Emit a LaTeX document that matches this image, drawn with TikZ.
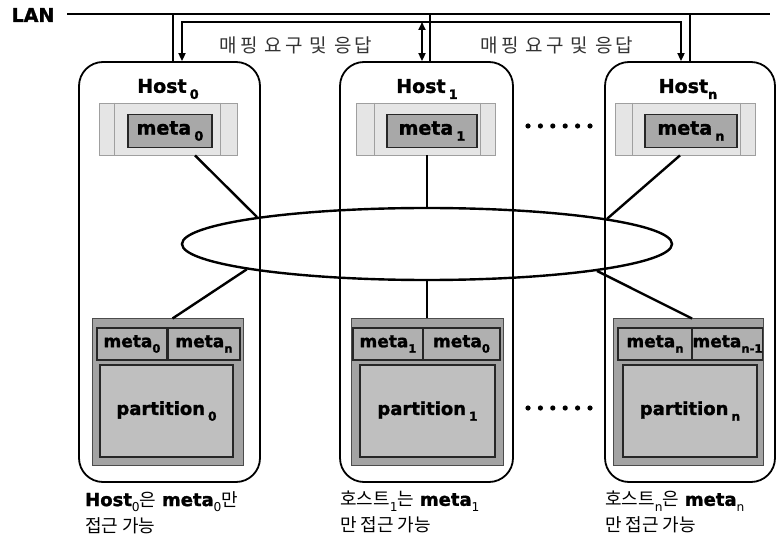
\documentclass[tikz,border=0pt]{standalone}
\usepackage{fontspec}
\setmainfont{DejaVu Sans}[BoldFeatures={FakeBold=1.5}]
\newfontfamily\kr{Noto Sans CJK KR}
\newfontfamily\krw{Noto Sans CJK KR}[LetterSpace=15]
\usetikzlibrary{shapes.geometric,arrows.meta,calc}
\newcommand\dn[1]{\raisebox{-0.32em}{\scalebox{0.68}{#1}}}
\begin{document}
\begin{tikzpicture}[x=1pt,y=-1pt,
  hostbox/.style={draw,line width=1.8pt,rounded corners=24pt,inner sep=0pt},
  metaouter/.style={draw=gray!75,line width=0.8pt,fill=gray!20,inner sep=0pt},
  metainner/.style={draw=black!85,line width=1.2pt,fill=gray!68,inner sep=0pt,font=\fontsize{19}{19}\selectfont\bfseries},
  partouter/.style={draw=black!70,line width=1pt,fill=gray!72,inner sep=0pt},
  metabox/.style={draw=black!85,line width=1.2pt,fill=gray!62,inner sep=0pt,font=\fontsize{17}{17}\selectfont\bfseries},
  partbox/.style={draw=black!85,line width=1.2pt,fill=gray!50,inner sep=0pt,font=\fontsize{18}{18}\selectfont\bfseries},
  hostlbl/.style={font=\fontsize{19}{19}\selectfont\bfseries,inner sep=0pt},
  link/.style={line width=2.4pt},
  lanline/.style={line width=1.8pt},
  darr/.style={line width=1.8pt,arrows={Triangle[length=8pt,width=7pt]-Triangle[length=8pt,width=7pt]}},
  krlbl/.style={font=\krw\fontsize{19}{19}\selectfont,text=black!80,inner sep=0pt},
  caption/.style={anchor=north west,align=left,inner sep=0pt,font=\fontsize{18}{26}\selectfont}
]
\useasboundingbox (0,0) rectangle (779,545);

% hosts
\node[hostbox,minimum width=181pt,minimum height=420pt] (h0) at (169.5,272) {};
\node[hostbox,minimum width=173pt,minimum height=420pt] (h1) at (426.5,272) {};
\node[hostbox,minimum width=170pt,minimum height=420pt] (hn) at (690,272) {};

\node[hostlbl] (l0) at (168,89) {Host\,\dn{0}};
\node[hostlbl] (l1) at (427,89) {Host\,\dn{1}};
\node[hostlbl] (ln) at (688,89) {Host\dn{n}};

% LAN
\node[font=\fontsize{19}{19}\selectfont\bfseries,inner sep=0pt] (lan) at (33,15) {LAN};
\coordinate (lanE) at (770,14);
\draw[lanline] (67,14) -- (lanE);
\coordinate (t0) at (173,14);
\coordinate (t1) at (430,14);
\coordinate (tn) at (690,14);
\draw[lanline] (t0) -- (t0 |- h0.north);
\draw[lanline] (t1) -- (t1 |- h1.north);
\draw[lanline] (tn) -- (tn |- hn.north);
\coordinate (a0) at (182,22);
\coordinate (a1) at (422,22);
\coordinate (an) at (681,22);
\draw[darr] (a0 |- h0.north) -- (a0) -- (an) -- (an |- hn.north);
\draw[darr] (a1) -- (a1 |- h1.north);
\node[krlbl] (k1) at (296,45) {매핑 요구 및 응답};
\node[krlbl] (k2) at (557,45) {매핑 요구 및 응답};

% top meta containers
\node[metaouter,minimum width=138pt,minimum height=52pt] (m0) at (168,129) {};
\draw[gray!75,line width=0.8pt] ($(m0.north west)+(16,0)$) -- ($(m0.south west)+(16,0)$);
\draw[gray!75,line width=0.8pt] ($(m0.north east)+(-17,0)$) -- ($(m0.south east)+(-17,0)$);
\node[metainner,minimum width=84pt,minimum height=33pt] (d0) at (170,131) {meta\,\dn{0}};

\node[metaouter,minimum width=139pt,minimum height=52pt] (m1) at (425.5,129) {};
\draw[gray!75,line width=0.8pt] ($(m1.north west)+(19,0)$) -- ($(m1.south west)+(19,0)$);
\draw[gray!75,line width=0.8pt] ($(m1.north east)+(-15,0)$) -- ($(m1.south east)+(-15,0)$);
\node[metainner,minimum width=90pt,minimum height=33pt] (d1) at (432,131) {meta\,\dn{1}};

\node[metaouter,minimum width=140pt,minimum height=52pt] (mn) at (685,129) {};
\draw[gray!75,line width=0.8pt] ($(mn.north west)+(18,0)$) -- ($(mn.south west)+(18,0)$);
\draw[gray!75,line width=0.8pt] ($(mn.north east)+(-15,0)$) -- ($(mn.south east)+(-15,0)$);
\node[metainner,minimum width=92pt,minimum height=33pt] (dn) at (691,131) {meta\,\dn{n}};

% ring
\node[draw,ellipse,line width=2.4pt,minimum width=490pt,minimum height=72pt,inner sep=0pt] (ring) at (427,244) {};

% bottom partitions
\node[partouter,minimum width=151pt,minimum height=146pt] (p0) at (167.5,392) {};
\node[metabox,minimum width=70pt,minimum height=32pt] (b0a) at (132,344) {meta\dn{0}};
\node[metabox,minimum width=72pt,minimum height=32pt] (b0b) at (204,344) {meta\dn{n}};
\node[partbox,minimum width=133pt,minimum height=92pt] (q0) at (166.5,411) {partition\,\dn{0}};

\node[partouter,minimum width=152pt,minimum height=146pt] (p1) at (427,392) {};
\node[metabox,minimum width=70pt,minimum height=32pt] (b1a) at (388,344) {meta\dn{1}};
\node[metabox,minimum width=77pt,minimum height=32pt] (b1b) at (461.5,344) {meta\dn{0}};
\node[partbox,minimum width=135pt,minimum height=92pt] (q1) at (427.5,411) {partition\,\dn{1}};

\node[partouter,minimum width=150pt,minimum height=146pt] (pn) at (688,392) {};
\node[metabox,minimum width=74pt,minimum height=32pt] (bna) at (655,344) {meta\dn{n}};
\node[metabox,minimum width=69pt,minimum height=32pt] (bnb) at (727.5,344) {meta\dn{n-1}};
\node[partbox,minimum width=134pt,minimum height=92pt] (qn) at (690,411) {partition\,\dn{n}};

% links
\draw[link] ($(m0.south)+(27,0)$) -- (ring.171.4);
\draw[link] ($(mn.south)+(-5,0)$) -- (ring.8.5);
\draw[line width=1.8pt] (ring.north |- m1.south) -- (ring.north);
\draw[link] (ring.188.6) -- ($(p0.north)+(5,0)$);
\draw[link] (ring.351.5) -- ($(pn.north)+(4,0)$);
\draw[line width=1.8pt] (ring.south) -- (ring.south |- p1.north);

% dots
\foreach \i in {0,...,5} {
  \fill (528+\i*12.4,126) circle (2.6pt);
  \fill (528+\i*12.4,408) circle (2.6pt);
}

% captions
\node[caption] (c0) at (85,491) {\textbf{Host}\dn{0}{\kr 은} \textbf{meta}\dn{0}{\kr 만}\\{\kr 접근 가능}};
\node[caption] (c1) at (340,491) {{\kr 호스트}\dn{1}{\kr 는} \textbf{meta}\dn{1}\\{\kr 만 접근 가능}};
\node[caption] (cn) at (605,491) {{\kr 호스트}\dn{n}{\kr 은} \textbf{meta}\dn{n}\\{\kr 만 접근 가능}};
\end{tikzpicture}
\end{document}
